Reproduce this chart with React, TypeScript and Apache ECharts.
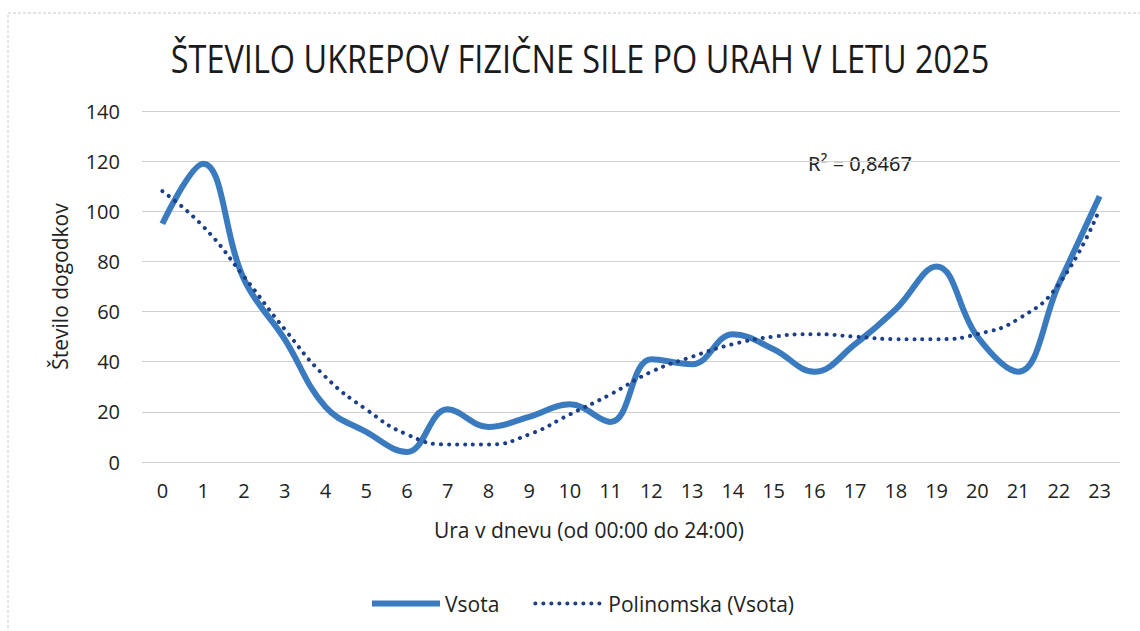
import React, { useEffect, useRef } from "react";
import * as echarts from "echarts";

const hours = ["0","1","2","3","4","5","6","7","8","9","10","11","12","13","14","15","16","17","18","19","20","21","22","23"];
const vsota = [95,119,73,49,22,12,4,21,14,18,23,16,41,39,51,45,36,47,61,78,50,36,71,106];
const trend = [108,94,74,53,34,21,11,7,7,11,19,27,36,42,47,50,51,50,49,49,51,57,71,101];
const titleText = "ŠTEVILO UKREPOV FIZIČNE SILE PO URAH V LETU 2025";
const yTitle = "Število dogodkov";
const xTitle = "Ura v dnevu (od 00:00 do 24:00)";
const r2Text = "R² = 0,8467";
const seriesNames = ["Vsota", "Polinomska (Vsota)"];

const FONT = "'Open Sans', sans-serif";
const LINE_COLOR = "#3a7abf";
const TREND_COLOR = "#1d3f86";
const DOTS = [0.1, 7.9];

export default function App() {
  const ref = useRef<HTMLDivElement>(null);
  useEffect(() => {
    document.body.style.margin = "0";
    const chart = echarts.init(ref.current!, null, { renderer: "svg" });
    chart.setOption({
      animation: false,
      backgroundColor: "#ffffff",
      textStyle: { fontFamily: FONT },
      grid: { left: 142, right: 20, top: 111, bottom: 169 },
      xAxis: {
        type: "category",
        data: hours,
        boundaryGap: true,
        axisLine: { show: false },
        axisTick: { show: false },
        axisLabel: { color: "#222", fontSize: 20, margin: 18, fontFamily: FONT },
      },
      yAxis: {
        type: "value",
        min: 0,
        max: 140,
        interval: 20,
        name: yTitle,
        nameLocation: "middle",
        nameRotate: 90,
        nameGap: 72,
        nameTextStyle: { fontSize: 21, color: "#222", fontFamily: FONT },
        axisLine: { show: false },
        axisTick: { show: false },
        axisLabel: { color: "#222", fontSize: 20, margin: 22, fontFamily: FONT },
        splitLine: { lineStyle: { color: "#cfcfcf", width: 1 } },
      },
      legend: {
        left: 364,
        top: 588,
        itemWidth: 68,
        itemHeight: 14,
        itemGap: 34,
        itemStyle: { opacity: 0 },
        textStyle: { fontSize: 21, color: "#222", fontFamily: FONT },
        data: [
          { name: seriesNames[0], lineStyle: { color: LINE_COLOR, width: 6 }, itemStyle: { opacity: 0 } },
          { name: seriesNames[1], lineStyle: { color: TREND_COLOR, width: 4, type: DOTS, cap: "round" }, itemStyle: { opacity: 0 } },
        ],
      },
      series: [
        {
          name: seriesNames[0],
          type: "line",
          data: vsota,
          smooth: 0.4,
          symbol: "none",
          lineStyle: { color: LINE_COLOR, width: 6 },
          itemStyle: { color: LINE_COLOR },
          z: 3,
        },
        {
          name: seriesNames[1],
          type: "line",
          data: trend,
          smooth: 0.5,
          symbol: "none",
          lineStyle: { color: TREND_COLOR, width: 4, type: DOTS, cap: "round" },
          itemStyle: { color: TREND_COLOR },
          z: 4,
        },
      ],
      graphic: [
        {
          type: "rect",
          shape: { x: 8, y: 13, width: 1200, height: 700 },
          style: { fill: "none", stroke: "#c8c8c8", lineWidth: 1, lineDash: [3, 2] },
          silent: true,
        },
        {
          type: "text",
          x: 580,
          y: 58,
          scaleX: 0.854,
          style: {
            text: titleText,
            font: "38px " + FONT,
            fill: "#1a1a1a",
            textAlign: "center",
            textVerticalAlign: "middle",
          },
        },
        {
          type: "text",
          x: 589,
          y: 530,
          style: {
            text: xTitle,
            font: "21px " + FONT,
            fill: "#222",
            textAlign: "center",
            textVerticalAlign: "middle",
          },
        },
        {
          type: "text",
          x: 808,
          y: 163,
          style: {
            text: r2Text,
            font: "20px 'Noto Sans', sans-serif",
            fill: "#222",
            textAlign: "left",
            textVerticalAlign: "middle",
          },
        },
      ],
    });
    return () => chart.dispose();
  }, []);
  return <div ref={ref} style={{ width: 1140, height: 631 }} />;
}
